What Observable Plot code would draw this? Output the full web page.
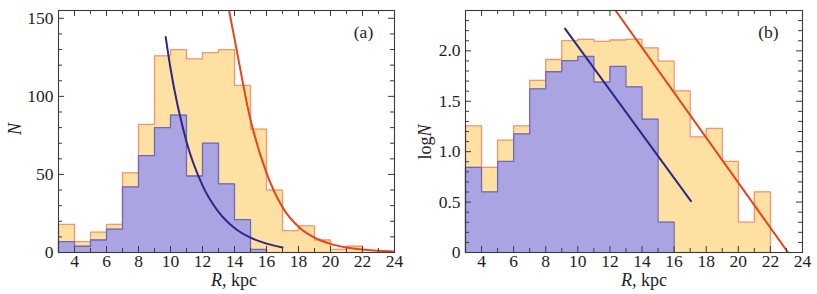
<!DOCTYPE html>
<html><head><meta charset="utf-8">
<script src="https://cdn.jsdelivr.net/npm/d3@7"></script>
<script src="https://cdn.jsdelivr.net/npm/@observablehq/plot@0.6"></script>
<style>
body{margin:0;background:#fff;}
#wrap{display:flex;width:817px;height:294px;}
svg text{font-family:'Liberation Serif','Times New Roman',serif;}
</style></head><body><div id="wrap"></div>
<script>
// ---- data ----
const binStart = [3,4,5,6,7,8,9,10,11,12,13,14,15,16,17,18,19,20,21];
const totalCounts = [18,7,13,18,51,82,126,130,124,128,130,107,79,40,14,17,8,2,4];
const innerCounts = [7,4,8,15,42,62,80,88,49,70,44,21,2];
const xTickLabels = [4,6,8,10,12,14,16,18,20,22,24];
const yTicksA = [0,50,100,150];
const yTicksB = [0,0.5,1.0,1.5,2.0];
const yTickLabelsB = ["0","0.5","1.0","1.5","2.0"];
// fitted curves, panel (a)
const fitInnerA_R = [9.7,10,11,12,13,14,15,16,17];
const fitInnerA_N = [138,118,71,43,26,15.7,9.5,5.7,3.2];
const fitTotalA_R = [13.0,14,15,16,17,18,19,20,21,22,23,24];
const fitTotalA_N = [190,137,85,51,29,16.5,9.5,5.5,3.2,1.9,1.1,0.7];
// fitted lines, panel (b)
const fitInnerB_R = [9.2,17.05];
const fitInnerB_logN = [2.22,0.51];
const fitTotalB_R = [12.35,23.1];
const fitTotalB_logN = [2.4,0];

// ---- styles ----
const C = {
  totFill:"#fee0a2", totStroke:"#f7946a",
  inFill:"#aaa5e2", inStroke:"#6f6ab2",
  inCurve:"#2c2885", totCurve:"#e8431c",
  frame:"#3a3a3a", text:"#1e1e1e"
};
const FONT = "'Liberation Serif','Times New Roman',serif";
const FS = 17.5;

function steps(vals, tf){
  const pts=[{x:binStart[0], y:0}];
  vals.forEach((v,i)=>{ const y=tf(v); pts.push({x:binStart[i],y},{x:binStart[i]+1,y}); });
  pts.push({x:binStart[vals.length-1]+1, y:0});
  return pts;
}
const pairs = (xs, ys) => xs.map((x,i)=>({x, y:ys[i]}));

function panel({width, mL, mR, yDomain, yMinor, yMajor, yFmt, tf, curves, tag, tagX, ylab}){
  const H=294, mT=10, mB=42;
  const iH = H-mT-mB, iW = width-mL-mR;
  const xMinor = d3.range(3,25,1);
  const tot = steps(totalCounts, tf), inn = steps(innerCounts, tf);
  const majL=6, minL=4;
  const xMaj = xMinor.filter(d=>d%2===0), xMin = xMinor.filter(d=>d%2!==0);
  const yMaj = yMinor.filter(d=>yMajor.some(m=>Math.abs(m-d)<1e-9));
  const yMin = yMinor.filter(d=>!yMajor.some(m=>Math.abs(m-d)<1e-9));
  const svg = Plot.plot({
    width, height:H, marginLeft:mL, marginRight:mR, marginTop:mT, marginBottom:mB,
    style:{fontFamily:FONT, fontSize:FS+"px", color:C.text, background:"#fff"},
    x:{domain:[3,24]},
    y:{domain:yDomain},
    marks:[
      Plot.areaY(tot,{x:"x",y1:0,y2:"y",fill:C.totFill}),
      Plot.line(tot,{x:"x",y:"y",stroke:C.totStroke,strokeWidth:1.3}),
      Plot.areaY(inn,{x:"x",y1:0,y2:"y",fill:C.inFill}),
      Plot.line(inn,{x:"x",y:"y",stroke:C.inStroke,strokeWidth:1.3}),
      ...curves.map(c=>Plot.line(c.data,{x:"x",y:"y",stroke:c.color,strokeWidth:2,curve:"monotone-x",clip:true})),
      // inward ticks
      Plot.tickX(xMaj,{x:d=>d,insetTop:iH-majL,stroke:C.frame}),
      Plot.tickX(xMin,{x:d=>d,insetTop:iH-minL,stroke:C.frame}),
      Plot.tickX(xMaj,{x:d=>d,insetBottom:iH-majL,stroke:C.frame}),
      Plot.tickX(xMin,{x:d=>d,insetBottom:iH-minL,stroke:C.frame}),
      Plot.tickY(yMaj,{y:d=>d,insetRight:iW-majL,stroke:C.frame}),
      Plot.tickY(yMin,{y:d=>d,insetRight:iW-minL,stroke:C.frame}),
      Plot.tickY(yMaj,{y:d=>d,insetLeft:iW-majL,stroke:C.frame}),
      Plot.tickY(yMin,{y:d=>d,insetLeft:iW-minL,stroke:C.frame}),
      Plot.frame({stroke:C.frame,strokeWidth:1.1}),
      Plot.axisX(xTickLabels,{anchor:"bottom",tickSize:0,tickPadding:2,label:null,fontSize:FS,fill:C.text}),
      Plot.axisY(yMajor,{anchor:"left",tickSize:0,tickPadding:5,label:null,tickFormat:yFmt,fontSize:FS,fill:C.text}),
      Plot.text([tag],{frameAnchor:"top-left",dx:tagX-mL,dy:15,text:d=>d,fontSize:FS,fill:C.text,textAnchor:"middle"})
    ]
  });
  const s = d3.select(svg);
  const xl = s.append("text").attr("x",234).attr("y",286).attr("text-anchor","middle")
    .attr("font-family",FONT).attr("font-size",18).attr("fill",C.text);
  xl.append("tspan").attr("font-style","italic").text("R");
  xl.append("tspan").text(", kpc");
  const yl = s.append("text").attr("transform",`translate(${ylab.x},${ylab.y}) rotate(-90)`)
    .attr("text-anchor","middle").attr("dy","0.35em")
    .attr("font-family",FONT).attr("font-size",18).attr("fill",C.text);
  ylab.parts.forEach(p=>yl.append("tspan").attr("font-style",p.it?"italic":"normal").text(p.t));
  return svg;
}

const wrap = document.getElementById("wrap");
wrap.appendChild(panel({
  width:410, mL:58, mR:16, yDomain:[0,155],
  yMinor:d3.range(0,151,10), yMajor:yTicksA, yFmt:d=>String(d), tf:v=>v,
  curves:[
    {data:pairs(fitInnerA_R,fitInnerA_N), color:C.inCurve},
    {data:pairs(fitTotalA_R,fitTotalA_N), color:C.totCurve}
  ],
  tag:"(a)", tagX:363, ylab:{x:15,y:129,parts:[{t:"N",it:true}]}
}));
wrap.appendChild(panel({
  width:407, mL:55, mR:15, yDomain:[0,2.4],
  yMinor:d3.range(0,24,1).map(d=>d/10), yMajor:yTicksB,
  yFmt:d=>yTickLabelsB[yTicksB.findIndex(t=>Math.abs(t-d)<1e-9)], tf:v=>Math.log10(v),
  curves:[
    {data:pairs(fitInnerB_R,fitInnerB_logN), color:C.inCurve},
    {data:pairs(fitTotalB_R,fitTotalB_logN), color:C.totCurve}
  ],
  tag:"(b)", tagX:358, ylab:{x:15,y:142,parts:[{t:"log"},{t:"N",it:true}]}
}));
</script></body></html>
